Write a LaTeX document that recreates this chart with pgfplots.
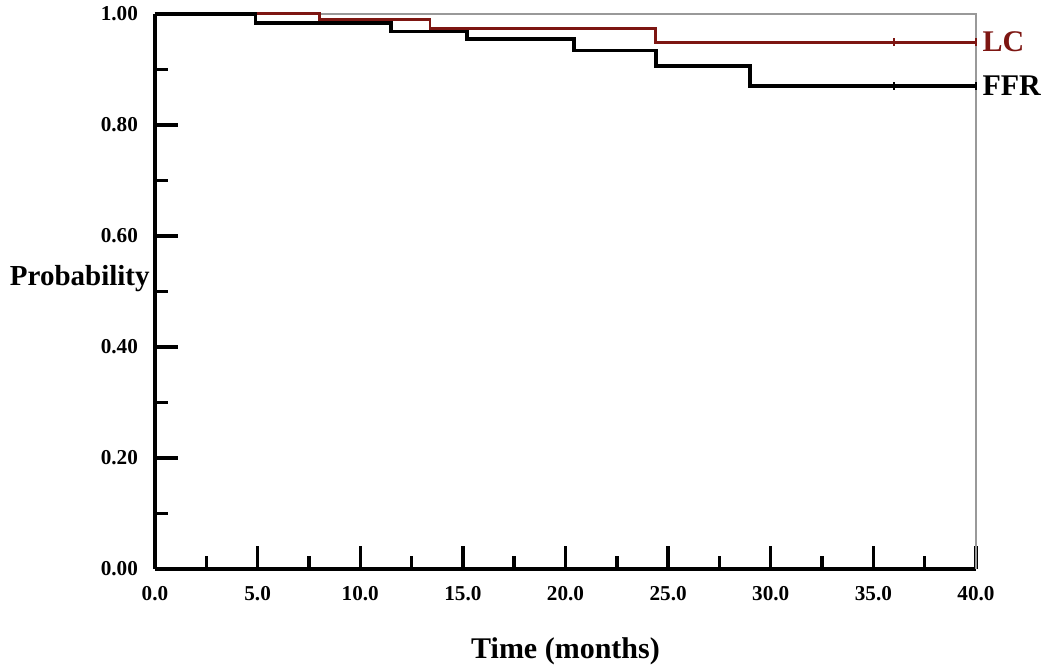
\documentclass[border=0pt]{standalone}
\usepackage{pgfplots}
\pgfplotsset{compat=1.18}
\usepackage{fontspec}
\setmainfont{Liberation Serif}
\definecolor{lcred}{RGB}{125,22,18}

\begin{document}
\begin{tikzpicture}
\begin{axis}[
    scale only axis,
    width=410.5pt, height=277.5pt,
    xmin=0, xmax=40, ymin=0, ymax=1,
    axis x line*=bottom, axis y line*=left,
    axis line style={line width=1.7pt, black},
    xtick={0,5,...,40}, minor x tick num=1,
    ytick={0,0.2,0.4,0.6,0.8,1.0}, minor y tick num=1,
    tick align=inside,
    major tick length=11.5pt, minor tick length=6.5pt,
    every tick/.style={line width=1.7pt, black},
    /pgf/number format/assume math mode=true,
    xticklabel style={/pgf/number format/.cd, fixed, fixed zerofill, precision=1},
    yticklabel style={/pgf/number format/.cd, fixed, fixed zerofill, precision=2},
    ticklabel style={font=\fontsize{10.6}{12}\selectfont\bfseries},
    xticklabel shift=5pt, yticklabel shift=5pt,
    xlabel={Time (months)},
    xlabel style={font=\fontsize{15}{18}\selectfont\bfseries, yshift=-12pt},
    ylabel={Probability},
    ylabel style={font=\fontsize{14.5}{16}\selectfont\bfseries, rotate=-90,
                  at={(rel axis cs:0,0.523)}, anchor=east, xshift=-2.5pt, inner sep=0pt},
    clip=false,
]
% keep the page at the reference's proportions
\path (rel axis cs:0,0) ++(-77.5pt,-49pt) (rel axis cs:1,1) ++(37pt,5pt);
\draw[gray!80, line width=0.7pt] (rel axis cs:0,1) -- (rel axis cs:1,1) -- (rel axis cs:1,0);

\addplot[const plot, lcred, line width=1.45pt] coordinates {
    (0,1.0) (8.0,0.990) (13.4,0.973) (24.4,0.949) (40,0.949)
};
\addplot[only marks, mark=|, mark size=2pt, lcred, line width=0.8pt] coordinates {
    (36,0.949) (40,0.949)
};

\addplot[const plot, black, line width=1.8pt] coordinates {
    (0,1.0) (4.9,0.984) (11.5,0.968) (15.2,0.955) (20.4,0.934)
    (24.4,0.906) (29.0,0.870) (40,0.870)
};
\addplot[only marks, mark=|, mark size=2pt, black, line width=0.8pt] coordinates {
    (36,0.870) (40,0.870)
};

\node[anchor=west, text=lcred, font=\fontsize{15}{17}\selectfont\bfseries, inner sep=1pt]
    at (axis cs:40.2,0.949) {LC};
\node[anchor=west, text=black, font=\fontsize{15}{17}\selectfont\bfseries, inner sep=1pt]
    at (axis cs:40.2,0.870) {FFR};
\end{axis}
\end{tikzpicture}
\end{document}
